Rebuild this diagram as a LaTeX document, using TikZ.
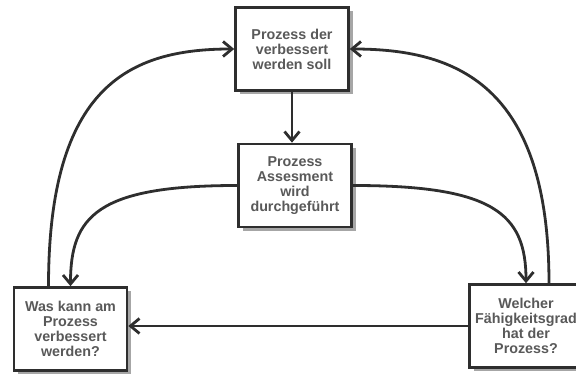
\documentclass[tikz,border=0pt]{standalone}
\usepackage{fontspec}
\setmainfont{Liberation Sans}
\usetikzlibrary{arrows.meta,shadows}
\definecolor{boxline}{HTML}{2E2E2E}
\definecolor{boxtext}{HTML}{595959}
\tikzset{
    stepbox/.style={draw=boxline, line width=2.6pt, fill=white, minimum width=113pt, minimum height=83pt, inner sep=2pt, align=center, text=boxtext, font=\bfseries\fontsize{14.3}{15}\selectfont, drop shadow={shadow xshift=4pt, shadow yshift=-4pt, fill=black!35, opacity=1}},
    flow/.style={draw=boxline, line width=2.8pt, -{Straight Barb[length=9pt,width=15pt]}}
}

\begin{document}
\begin{tikzpicture}[x=1pt,y=1pt]
        \useasboundingbox (0,0) rectangle (576,374);
        \node[stepbox] (prozess) at (292,325) {Prozess der\\verbessert\\werden soll};
        \node[stepbox] (assesment) at (295,188.5) {Prozess\\Assesment\\wird\\durchgeführt};
        \node[stepbox] (verbessern) at (70.5,45) {Was kann am\\Prozess\\verbessert\\werden?};
        \node[stepbox] (faehigkeit) at (526,48) {Welcher\\Fähigkeitsgrad\\hat der\\Prozess?};

        \draw[flow] (prozess.south) -- (prozess.south |- assesment.north);
        \draw[flow] (assesment.west) .. controls +(-140,0) and +(0,70) .. (verbessern.north);
        \draw[flow] (assesment.east) .. controls +(140,0) and +(0,70) .. (faehigkeit.north);
        \draw[flow] (faehigkeit.west) -- (faehigkeit.west -| verbessern.east);
        \draw[flow] ([xshift=-22pt]verbessern.north) .. controls +(0,200) and +(-105,0) .. (prozess.west);
        \draw[flow] ([xshift=23pt]faehigkeit.north) .. controls +(0,200) and +(105,0) .. (prozess.east);
\end{tikzpicture}
\end{document}
